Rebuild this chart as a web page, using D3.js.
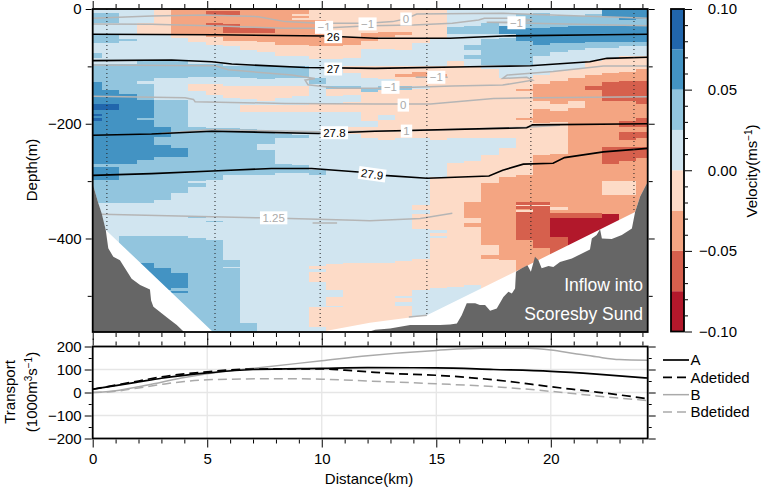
<!DOCTYPE html>
<html lang="en">
<head>
<meta charset="UTF-8">
<title>Inflow into Scoresby Sund</title>
<style>
  body { margin: 0; background: #fff; }
  svg { display: block; }
  text { font-family: "Liberation Sans", Arial, sans-serif; font-size: 15px; fill: #000; }
  .tick text { font-size: 15px; }
  .tick line { stroke: #000; }
</style>
<script src="https://d3js.org/d3.v7.min.js"></script>
</head>
<body>
<script>
// velocity section: one list per distance column, each [end depth (m), colour class], top to bottom
// class n is the band n*0.025 .. (n-1)*0.025 m/s, negative is outflow
const velocityColumns = [
  [[7,1],[25,2],[45,1],[60,2],[77,1],[85,2],[95,1],[127,2],[165,3],[176,4],[183,3],[187,4],[190,3],[195,4],[270,3],[275,2],[298,3],[339,2],[600,1]],
  [[7,1],[25,2],[45,1],[60,2],[95,1],[141,2],[165,3],[176,4],[270,3],[275,2],[298,3],[339,2],[600,1]],
  [[52,1],[55,2],[95,1],[148,2],[270,3],[339,2],[395,1],[600,2]],
  [[25,1],[45,-1],[90,1],[125,2],[130,1],[158,2],[190,3],[193,2],[263,3],[339,2],[395,1],[442,2],[600,3]],
  [[45,-1],[90,1],[120,2],[158,1],[205,2],[223,3],[237,2],[258,3],[333,2],[395,1],[452,2],[490,3],[600,2]],
  [[45,-2],[50,-1],[90,1],[120,2],[158,1],[243,2],[258,3],[321,2],[395,1],[460,2],[487,3],[492,2],[495,3],[600,2]],
  [[45,-2],[57,-1],[95,1],[118,2],[130,1],[143,-1],[205,1],[300,2],[303,1],[311,2],[362,1],[365,2],[400,1],[600,2]],
  [[3,-2],[10,-3],[25,-2],[30,-3],[48,-2],[62,-1],[95,1],[118,2],[130,1],[150,-1],[207,1],[298,2],[369,1],[371,2],[403,1],[600,2]],
  [[3,-2],[10,-3],[27,-2],[42,-3],[55,-2],[65,-1],[100,1],[118,2],[135,1],[155,-1],[207,1],[290,2],[438,1],[450,2],[452,1],[600,2]],
  [[33,-2],[42,-3],[55,-2],[72,-1],[100,1],[120,2],[135,1],[157,-1],[167,1],[180,-1],[210,1],[290,2],[548,1],[600,2]],
  [[33,-2],[42,-3],[58,-2],[75,-1],[100,1],[122,2],[135,1],[160,-1],[167,1],[180,-1],[215,1],[235,2],[246,1],[290,2],[600,1]],
  [[62,-2],[82,-1],[100,1],[120,2],[135,1],[155,-1],[167,1],[180,-1],[218,1],[225,2],[270,1],[285,2],[600,1]],
  [[8,-2],[12,-1],[15,-2],[20,-1],[62,-2],[82,-1],[100,1],[120,2],[135,1],[152,-1],[167,1],[180,-1],[220,1],[225,2],[272,1],[285,2],[600,1]],
  [[19,-1],[65,-2],[88,-1],[120,1],[130,2],[165,1],[180,-1],[280,1],[290,2],[448,1],[453,-1],[458,1],[476,-1],[520,1],[555,-1],[600,1]],
  [[48,-1],[65,-2],[88,-1],[135,1],[140,2],[152,-1],[165,1],[180,-1],[445,1],[490,-1],[502,1],[517,-1],[520,1],[600,-1]],
  [[48,-1],[62,-2],[85,-1],[100,1],[112,-1],[135,1],[140,2],[150,-1],[162,1],[180,-1],[205,1],[218,-1],[443,1],[600,-1]],
  [[42,-1],[55,-2],[70,-1],[100,1],[120,-1],[137,1],[145,2],[195,-1],[205,1],[225,-1],[280,1],[290,2],[443,1],[600,-1]],
  [[40,-1],[48,-2],[70,-1],[100,1],[122,-1],[135,1],[142,2],[185,-1],[194,1],[228,-1],[443,1],[600,-1]],
  [[40,-1],[46,-2],[72,-1],[100,1],[113,-1],[118,-2],[135,-1],[142,2],[225,-1],[440,1],[500,-1],[504,1],[510,-1],[518,1],[600,-1]],
  [[60,-1],[100,1],[110,-1],[118,-2],[135,-1],[140,1],[225,-1],[342,1],[350,-1],[358,1],[383,-1],[435,1],[490,-1],[600,1]],
  [[53,-1],[100,1],[113,-1],[118,-2],[228,-1],[292,1],[385,-1],[391,1],[395,-1],[399,1],[487,-1],[600,1]],
  [[32,1],[43,2],[90,1],[225,-1],[268,1],[484,-1],[600,1]],
  [[30,1],[43,2],[62,1],[72,2],[80,1],[87,2],[100,1],[225,-1],[265,1],[336,-1],[365,-2],[373,-1],[380,-2],[481,-1],[600,1]],
  [[25,1],[43,2],[52,1],[97,2],[105,1],[225,-1],[255,1],[304,-1],[412,-2],[428,-1],[435,-2],[600,-1]],
  [[30,1],[43,3],[50,1],[97,2],[120,1],[225,-1],[242,1],[293,-1],[438,-2],[600,-1]],
  [[8,1],[33,2],[56,3],[97,2],[120,1],[140,-1],[143,-2],[190,-1],[193,-2],[290,-1],[336,-2],[342,-3],[344,-1],[348,-3],[351,-2],[353,-1],[403,-3],[600,-2]],
  [[7,1],[33,2],[62,3],[82,2],[115,1],[130,-1],[160,-2],[175,-1],[198,-2],[255,-1],[336,-2],[342,-3],[344,-1],[417,-3],[600,-2]],
  [[13,1],[32,2],[60,3],[75,2],[108,1],[125,-1],[165,-2],[178,-1],[197,-2],[252,-1],[345,-2],[351,-1],[356,-2],[365,-3],[398,-4],[600,-3]],
  [[12,1],[30,2],[60,3],[72,2],[105,1],[120,-1],[160,-2],[172,-1],[356,-2],[365,-3],[600,-4]],
  [[8,1],[30,2],[58,3],[68,2],[90,1],[115,-1],[135,-2],[142,-3],[356,-2],[365,-3],[600,-4]],
  [[14,3],[30,2],[58,3],[68,2],[85,1],[112,-1],[128,-2],[160,-3],[240,-2],[270,-3],[300,-2],[325,-1],[358,-2],[600,-4]],
  [[20,3],[30,2],[58,3],[65,2],[82,1],[110,-1],[125,-2],[160,-3],[195,-2],[205,-3],[215,-2],[228,-3],[240,-2],[265,-3],[300,-2],[325,-1],[600,-2]],
  [[18,3],[30,2],[58,3],[65,2],[82,1],[105,-1],[125,-2],[165,-3],[190,-2],[205,-3],[215,-2],[225,-3],[240,-2],[260,-3],[600,-2]]
];

const velocityBreaks = [-0.075, -0.05, -0.025, 0, 0.025, 0.05, 0.075];
const velocityColors = ["#b2182b", "#d6604d", "#f4a582", "#fddbc7", "#d1e5f0", "#92c5de", "#4393c3", "#2166ac"];
const colorbarTicks = [-0.10, -0.05, 0, 0.05, 0.10];

// [distance km, depth m]
const bedLeft = [[0,305],[0.06,313],[0.25,339],[0.39,356],[0.57,385],[0.68,417],[0.9,432],[1.19,438],[1.41,452],[1.7,470],[2.07,481],[2.5,489],[2.55,508],[2.65,519],[2.94,528],[3.3,539.5],[3.67,551],[3.99,563]];
const bedRight = [[12.02,563],[12.33,559],[12.98,557],[13.86,551],[14.59,551],[15.17,551],[15.6,550],[15.9,548],[16.11,534],[16.33,513],[16.7,513],[16.9,516],[17.13,516],[17.35,526],[17.64,522],[17.93,502],[18.15,493],[18.3,496],[18.44,487],[18.48,458],[18.73,452],[18.98,446.5],[19.13,458],[19.31,432],[19.46,438],[19.6,452],[19.9,448],[20.11,449.5],[20.4,441],[20.92,435],[21.71,419],[21.79,400],[22,394],[22.15,384],[22.23,400],[22.66,401],[23.1,394],[23.54,382.5],[23.68,354],[23.9,327],[24.23,301]];
const sectionLimit = [[0,0],[24.23,0],[24.23,301],[23.9,327],[23.68,354],[14.59,534],[12.1,547],[9.93,563],[5.25,563],[0.57,385],[0.25,339],[0,305]];

// stations: distance km, deepest sample m
const stationDistance = [0.62, 5.34, 9.93, 14.59, 19.13, 23.63];
const stationBottom = [388, 562, 556, 534, 431, 353];

// density contours
const densityLines = [
  [[0,44],[5.34,45],[10.14,47],[12.33,51],[15.6,51],[17.92,47],[22.28,45],[24.23,44]],
  [[0,90],[3.45,89],[5.2,92],[6.07,96],[9.27,102],[12.33,103.5],[16.47,100.6],[19.1,99],[21.7,92],[22.45,86],[24.23,84]],
  [[0,220],[2.57,218],[5.2,213],[9.85,217],[12.33,213],[18.95,207],[19.2,202],[24.23,200]],
  [[0,290],[2.57,287],[5.48,282],[7.8,278],[9.56,278],[11.6,284],[12.7,290],[14.6,295],[17.3,291],[17.9,281],[18.8,270.4],[20.1,269],[20.6,259],[22.3,249],[24.23,243]]
];
// velocity contours in grey
const speedLines = [
  [[0,16],[2.57,12],[4.9,10.5],[7.23,13.4],[8.4,22],[9.85,25],[12,25],[13.1,22],[13.68,17],[14.15,8.7],[17.9,7.5],[22.3,13.4],[24.23,16]],
  [[0,26],[2.57,26.7],[5.48,29.7],[8.4,33.7],[9.9,33.7],[12.1,29],[14,28],[15.7,25],[16.85,19],[17.1,16],[18.5,16],[19.2,19],[18.6,23],[17.2,23],[24.23,29]],
  [[0,97.7],[5.34,99],[5.92,106],[8.69,115],[9.7,121],[9.27,124],[9.4,132],[10.7,138],[12.33,138],[14,136.5],[15.7,134],[17.9,132.6],[19.2,124],[18.95,119],[17.9,121],[18.1,115],[20.1,109],[22.3,99.4],[24.23,99.4]],
  [[14.1,119],[15.5,119]],
  [[0,152],[4.03,154.7],[4.4,157.6],[4.47,161.6],[8.4,164.6],[12.33,165.7],[14.75,165.7],[17.5,155.8],[19.4,154.7],[24.23,153]],
  [[3,217],[5.2,210],[9.85,214],[13.7,212],[18.9,206],[20.4,202.5]],
  [[0.39,357.6],[7.38,364],[11.45,368],[12.1,369],[14.3,365],[15.7,356]],
  [[9.6,373],[10.67,373]],
  [[13.8,537],[14.6,534]]
];

// contour labels: text, distance, depth, rotation
const densityLabels = [["26",10.5,48.3,0],["27",10.5,104.6,0],["27.8",10.55,215.7,0],["27.9",12.2,288,8]];
const speedLabels = [["\u22121",10.1,32,0],["\u22121",12,26,0],["0",13.68,17.4,0],["\u22121",18.5,24,0],["\u22121",15,119,0],["\u22121",13,136.5,0],["0",13.56,167.5,0],["1",13.7,212.8,0],["1.25",7.9,364,0]];

// transport panel, 1000 m3/s
const transportSeries = ["A", "Adetided", "B", "Bdetided"];
const transportA = [[0,14],[1,30],[2,46],[3,62],[5,85],[7,100],[10,105],[12,108],[15,107],[17.5,100],[20,92],[22,80],[24.23,63]];
const transportAdetided = [[0,14],[2,50],[3,68],[5,90],[6,98],[7,102],[10,103],[11,97],[12,90],[13,83],[15,75],[17,60],[18,50],[20,25],[22,2],[24.23,-27]];
const transportB = [[0,0],[1,8],[2,25],[3,45],[4,65],[5,82],[7,105],[10,138],[12,160],[15,183],[17,192],[19,192],[20,185],[21,170],[22,155],[23,143],[24.23,140]];
const transportBdetided = [[0,0],[1,5],[2,20],[3,35],[4,48],[5,55],[6,58],[8,60],[10,58],[12,50],[15,38],[18,22],[20,5],[22,-15],[24.23,-35]];

const width = 765, height = 490;
const left = 92.7, right = 647.7;

const svg = d3.select("body").append("svg").attr("width", width).attr("height", height);

const x = d3.scaleLinear().domain([0, 24.23]).range([left, right]);
const depth = d3.scaleLinear().domain([0, 563]).range([9, 332]);
const elevation = d3.scaleLinear().domain([0, -563]).range([9, 332]);
const transport = d3.scaleLinear().domain([-200, 200]).range([438.5, 346.5]);
const color = d3.scaleThreshold().domain(velocityBreaks).range(velocityColors);

const clip = svg.append("clipPath").attr("id", "section");
clip.append("polygon").attr("points", sectionLimit.map(d => [x(d[0]), depth(d[1])].join(",")).join(" "));
const frameClip = svg.append("clipPath").attr("id", "frame");
frameClip.append("rect").attr("x", left).attr("y", 9).attr("width", right - left).attr("height", 323);

// cells
const firstEdge = 0.415, columnWidth = 0.7524;
const cells = [];
velocityColumns.forEach((col, i) => {
  let top = 0;
  col.forEach(([end, cls]) => {
    cells.push({
      x0: i === 0 ? 0 : firstEdge + (i - 1) * columnWidth,
      x1: Math.min(24.23, firstEdge + i * columnWidth),
      top, end,
      v: (cls - Math.sign(cls) * 0.5) * 0.025
    });
    top = end;
  });
});

const section = svg.append("g").attr("clip-path", "url(#section)");
section.selectAll("rect").data(cells).join("rect")
  .attr("x", d => x(d.x0))
  .attr("width", d => x(d.x1) - x(d.x0))
  .attr("y", d => depth(d.top))
  .attr("height", d => depth(d.end) - depth(d.top))
  .attr("fill", d => color(d.v))
  .attr("shape-rendering", "crispEdges");

const contour = d3.line().x(d => x(d[0])).y(d => depth(d[1]));

const above = svg.append("g").attr("clip-path", "url(#frame)");
above.selectAll(".speed").data(speedLines).join("path")
  .attr("class", "speed")
  .attr("d", contour)
  .attr("fill", "none").attr("stroke", "#b5b5b5").attr("stroke-width", 1.5);
above.selectAll(".density").data(densityLines).join("path")
  .attr("class", "density")
  .attr("d", contour)
  .attr("fill", "none").attr("stroke", "#000").attr("stroke-width", 1.6);

// stations
above.selectAll(".station").data(stationDistance).join("line")
  .attr("class", "station")
  .attr("x1", d => x(d)).attr("x2", d => x(d))
  .attr("y1", depth(0)).attr("y2", (d, i) => depth(stationBottom[i]))
  .attr("stroke", "#222").attr("stroke-width", 1).attr("stroke-dasharray", "1 3");

// sea bed
const bed = d3.line().x(d => x(d[0])).y(d => depth(d[1]));
above.append("path").attr("d", bed([...bedLeft, [0, 563]]) + "Z").attr("fill", "#666");
above.append("path").attr("d", bed([...bedRight, [24.23, 563]]) + "Z").attr("fill", "#666");

// labels on contours
function contourLabels(rows, ink) {
  const g = svg.append("g");
  rows.forEach(([txt, km, m, rot]) => {
    const item = g.append("g").attr("transform", `translate(${x(km)},${depth(m)}) rotate(${rot})`);
    const label = item.append("text").attr("text-anchor", "middle").attr("dy", "0.36em")
      .style("font-size", "11.5px").style("fill", ink).text(txt);
    const w = label.node().getComputedTextLength() + 5;
    item.insert("rect", "text").attr("x", -w / 2).attr("y", -6.5).attr("width", w).attr("height", 13).attr("fill", "#fff");
  });
}
contourLabels(speedLabels, "#aaa");
contourLabels(densityLabels, "#000");

svg.append("text").attr("x", 643).attr("y", 291).attr("text-anchor", "end").style("font-size", "17.5px").style("fill", "#fff").text("Inflow into");
svg.append("text").attr("x", 643).attr("y", 320).attr("text-anchor", "end").style("font-size", "17.5px").style("fill", "#fff").text("Scoresby Sund");

// frame and axes
function frame(y0, y1) {
  svg.append("rect").attr("x", left).attr("y", y0).attr("width", right - left).attr("height", y1 - y0)
    .attr("fill", "none").attr("stroke", "#000").attr("stroke-width", 1.8);
}
function ticks(axis, tx, ty, w) {
  const g = svg.append("g").attr("transform", `translate(${tx},${ty})`).call(axis);
  g.select(".domain").remove();
  g.selectAll(".tick line").attr("stroke-width", w);
  return g;
}
const km = d3.range(0, 25), km5 = km.filter(d => d % 5 === 0), km1 = km.filter(d => d % 5 !== 0);

frame(9, 332);
ticks(d3.axisTop(x).tickValues(km1).tickSize(4).tickFormat(""), 0, 8, 1);
ticks(d3.axisTop(x).tickValues(km5).tickSize(7).tickFormat(""), 0, 8, 1);
ticks(d3.axisBottom(x).tickValues(km1).tickSize(4).tickFormat(""), 0, 333, 1);
ticks(d3.axisBottom(x).tickValues(km5).tickSize(7).tickFormat(""), 0, 333, 1);
ticks(d3.axisLeft(elevation).tickValues([0, -200, -400]).tickSize(6).tickPadding(4), left - 1, 0, 1);
ticks(d3.axisLeft(elevation).tickValues([-100, -300, -500]).tickSize(4).tickFormat(""), left - 1, 0, 1);
ticks(d3.axisRight(elevation).tickValues([0, -200, -400]).tickSize(6).tickFormat(""), right + 1, 0, 1);
ticks(d3.axisRight(elevation).tickValues([-100, -300, -500]).tickSize(4).tickFormat(""), right + 1, 0, 1);

svg.append("text").attr("transform", "translate(37,170) rotate(-90)").attr("text-anchor", "middle").text("Depth(m)");

// transport panel
const grid = svg.append("g").attr("stroke", "#e6e6e6").attr("stroke-width", 1.3);
grid.selectAll(".gx").data([5, 10, 15, 20]).join("line").attr("x1", d => x(d)).attr("x2", d => x(d)).attr("y1", 346.5).attr("y2", 438.5);
grid.selectAll(".gy").data([-100, 0, 100]).join("line").attr("x1", left).attr("x2", right).attr("y1", d => transport(d)).attr("y2", d => transport(d));

const line = d3.line().x(d => x(d[0])).y(d => transport(d[1])).curve(d3.curveMonotoneX);
const transportStyles = {
  A: { stroke: "#000", dash: null, w: 1.7 },
  Adetided: { stroke: "#000", dash: "9 5", w: 1.7 },
  B: { stroke: "#aaa", dash: null, w: 1.5 },
  Bdetided: { stroke: "#aaa", dash: "9 5", w: 1.5 }
};
[transportBdetided, transportB, transportAdetided, transportA].forEach((rows, i) => {
  const s = transportStyles[transportSeries[3 - i]];
  svg.append("path").attr("d", line(rows)).attr("fill", "none")
    .attr("stroke", s.stroke).attr("stroke-width", s.w).attr("stroke-dasharray", s.dash);
});

frame(346.5, 438.5);
ticks(d3.axisLeft(transport).tickValues([-200, -100, 0, 100, 200]).tickSize(7).tickPadding(3), left - 1, 0, 1);
ticks(d3.axisLeft(transport).tickValues([-150, -50, 50, 150]).tickSize(3).tickFormat(""), left - 1, 0, 1);
ticks(d3.axisRight(transport).tickValues([-200, -100, 0, 100, 200]).tickSize(7).tickFormat(""), right + 1, 0, 1);
ticks(d3.axisRight(transport).tickValues([-150, -50, 50, 150]).tickSize(3).tickFormat(""), right + 1, 0, 1);
ticks(d3.axisTop(x).tickValues(km1).tickSize(4).tickFormat(""), 0, 345.5, 1);
ticks(d3.axisTop(x).tickValues(km5).tickSize(7).tickFormat(""), 0, 345.5, 1);
ticks(d3.axisBottom(x).tickValues(km1).tickSize(4).tickFormat(""), 0, 439.5, 1);
ticks(d3.axisBottom(x).tickValues(km5).tickSize(8).tickPadding(6), 0, 439.5, 1);

const transportTitle = svg.append("g").attr("transform", "translate(25,392) rotate(-90)");
transportTitle.append("text").attr("text-anchor", "middle").attr("y", -10).text("Transport");
const unit = transportTitle.append("text").attr("text-anchor", "middle").attr("y", 12);
unit.append("tspan").text("(1000m");
unit.append("tspan").attr("dy", -5).style("font-size", "10px").text("3");
unit.append("tspan").attr("dy", 5).text("s");
unit.append("tspan").attr("dy", -5).style("font-size", "10px").text("\u22121");
unit.append("tspan").attr("dy", 5).text(")");

svg.append("text").attr("x", 369).attr("y", 484).attr("text-anchor", "middle").text("Distance(km)");

// legend
const legendY = d3.scalePoint().domain(transportSeries).range([360, 412]);
const legend = svg.append("g");
transportSeries.forEach(name => {
  const s = transportStyles[name];
  legend.append("line").attr("x1", 663).attr("x2", 689).attr("y1", legendY(name)).attr("y2", legendY(name))
    .attr("stroke", s.stroke).attr("stroke-width", s.w).attr("stroke-dasharray", s.dash);
  legend.append("text").attr("x", 690.5).attr("y", legendY(name)).attr("dy", "0.36em").text(name);
});

// colorbar
const barX = 671, barW = 13;
const bar = d3.scaleLinear().domain([-0.1, 0.1]).range([331.5, 9]);
const bands = d3.range(8).map(i => ({ lo: -0.1 + i * 0.025, hi: -0.075 + i * 0.025, fill: velocityColors[i] }));
svg.append("g").selectAll("rect").data(bands).join("rect")
  .attr("x", barX).attr("width", barW)
  .attr("y", d => bar(d.hi)).attr("height", d => bar(d.lo) - bar(d.hi))
  .attr("fill", d => d.fill);
svg.append("rect").attr("x", barX).attr("y", 9).attr("width", barW).attr("height", 322.5)
  .attr("fill", "none").attr("stroke", "#000").attr("stroke-width", 1.8);
ticks(d3.axisRight(bar).tickValues(d3.range(-10, 11).filter(d => d % 5 !== 0).map(d => d / 100)).tickSize(3).tickFormat(""), barX + barW + 1, 0, 1);
const barAxis = ticks(d3.axisRight(bar).tickValues(colorbarTicks).tickSize(7).tickFormat(d3.format(".2f")).tickPadding(0), barX + barW + 1, 0, 1);
barAxis.selectAll(".tick text").attr("text-anchor", "end").attr("x", 52);

const barTitle = svg.append("text").attr("transform", "translate(757,171) rotate(-90)").attr("text-anchor", "middle");
barTitle.append("tspan").text("Velocity(ms");
barTitle.append("tspan").attr("dy", -5).style("font-size", "10px").text("\u22121");
barTitle.append("tspan").attr("dy", 5).text(")");
</script>
</body>
</html>
